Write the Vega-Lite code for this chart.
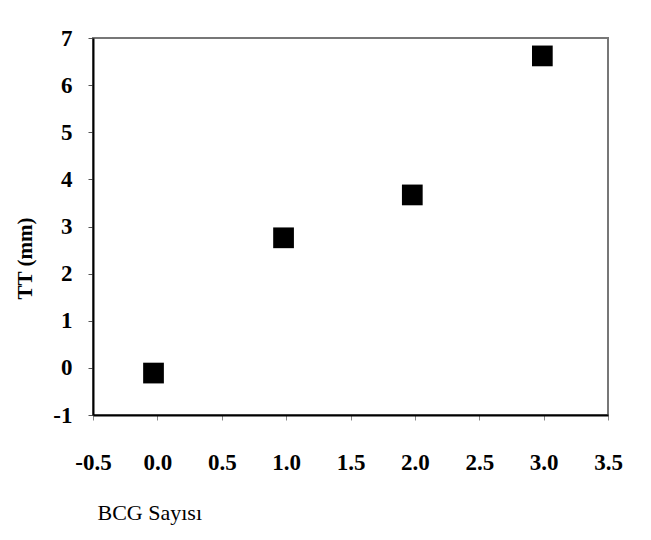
{
  "$schema": "https://vega.github.io/schema/vega-lite/v6.json",
  "width": 515,
  "height": 377,
  "autosize": {"type": "none"},
  "padding": {"left": 93, "top": 38, "right": 43, "bottom": 125},
  "background": "white",
  "config": {
    "view": {"stroke": "#777777", "strokeWidth": 2},
    "font": "Liberation Serif"
  },
  "data": {
    "values": [
      {"bcg": -0.03, "tt": -0.11},
      {"bcg": 0.98, "tt": 2.76},
      {"bcg": 1.98, "tt": 3.67},
      {"bcg": 2.99, "tt": 6.62}
    ]
  },
  "mark": {"type": "square", "size": 430, "color": "black", "opacity": 1, "filled": true},
  "encoding": {
    "x": {
      "field": "bcg",
      "type": "quantitative",
      "scale": {"domain": [-0.5, 3.5], "nice": false, "zero": false},
      "axis": {
        "values": [-0.5, 0, 0.5, 1, 1.5, 2, 2.5, 3, 3.5],
        "format": ".1f",
        "title": "BCG Sayısı",
        "grid": false,
        "domainColor": "black",
        "domainWidth": 2,
        "tickColor": "#888888",
        "tickSize": 5,
        "labelFont": "Liberation Serif",
        "labelFontSize": 23,
        "labelFontWeight": "bold",
        "labelColor": "black",
        "labelPadding": 31,
        "labelFlush": false,
        "labelExpr": "replace(datum.label, '−', '-')",
        "titleFont": "Liberation Serif",
        "titleFontSize": 22,
        "titleFontWeight": "normal",
        "titleColor": "black",
        "titleAnchor": "start",
        "titleAlign": "left",
        "titleBaseline": "alphabetic",
        "titleX": 4,
        "titleY": 104
      }
    },
    "y": {
      "field": "tt",
      "type": "quantitative",
      "scale": {"domain": [-1, 7], "nice": false, "zero": false},
      "axis": {
        "values": [-1, 0, 1, 2, 3, 4, 5, 6, 7],
        "title": "TT (mm)",
        "grid": false,
        "domainColor": "black",
        "domainWidth": 2,
        "tickColor": "#555555",
        "tickSize": 5,
        "labelFont": "Liberation Serif",
        "labelFontSize": 23,
        "labelFontWeight": "bold",
        "labelColor": "black",
        "labelPadding": 16,
        "labelFlush": false,
        "labelExpr": "replace(datum.label, '−', '-')",
        "titleFont": "Liberation Serif",
        "titleFontSize": 21,
        "titleFontWeight": "bold",
        "titleColor": "black",
        "titleAngle": -90,
        "titleAlign": "center",
        "titleBaseline": "middle",
        "titleX": -68,
        "titleY": 220
      }
    }
  }
}
